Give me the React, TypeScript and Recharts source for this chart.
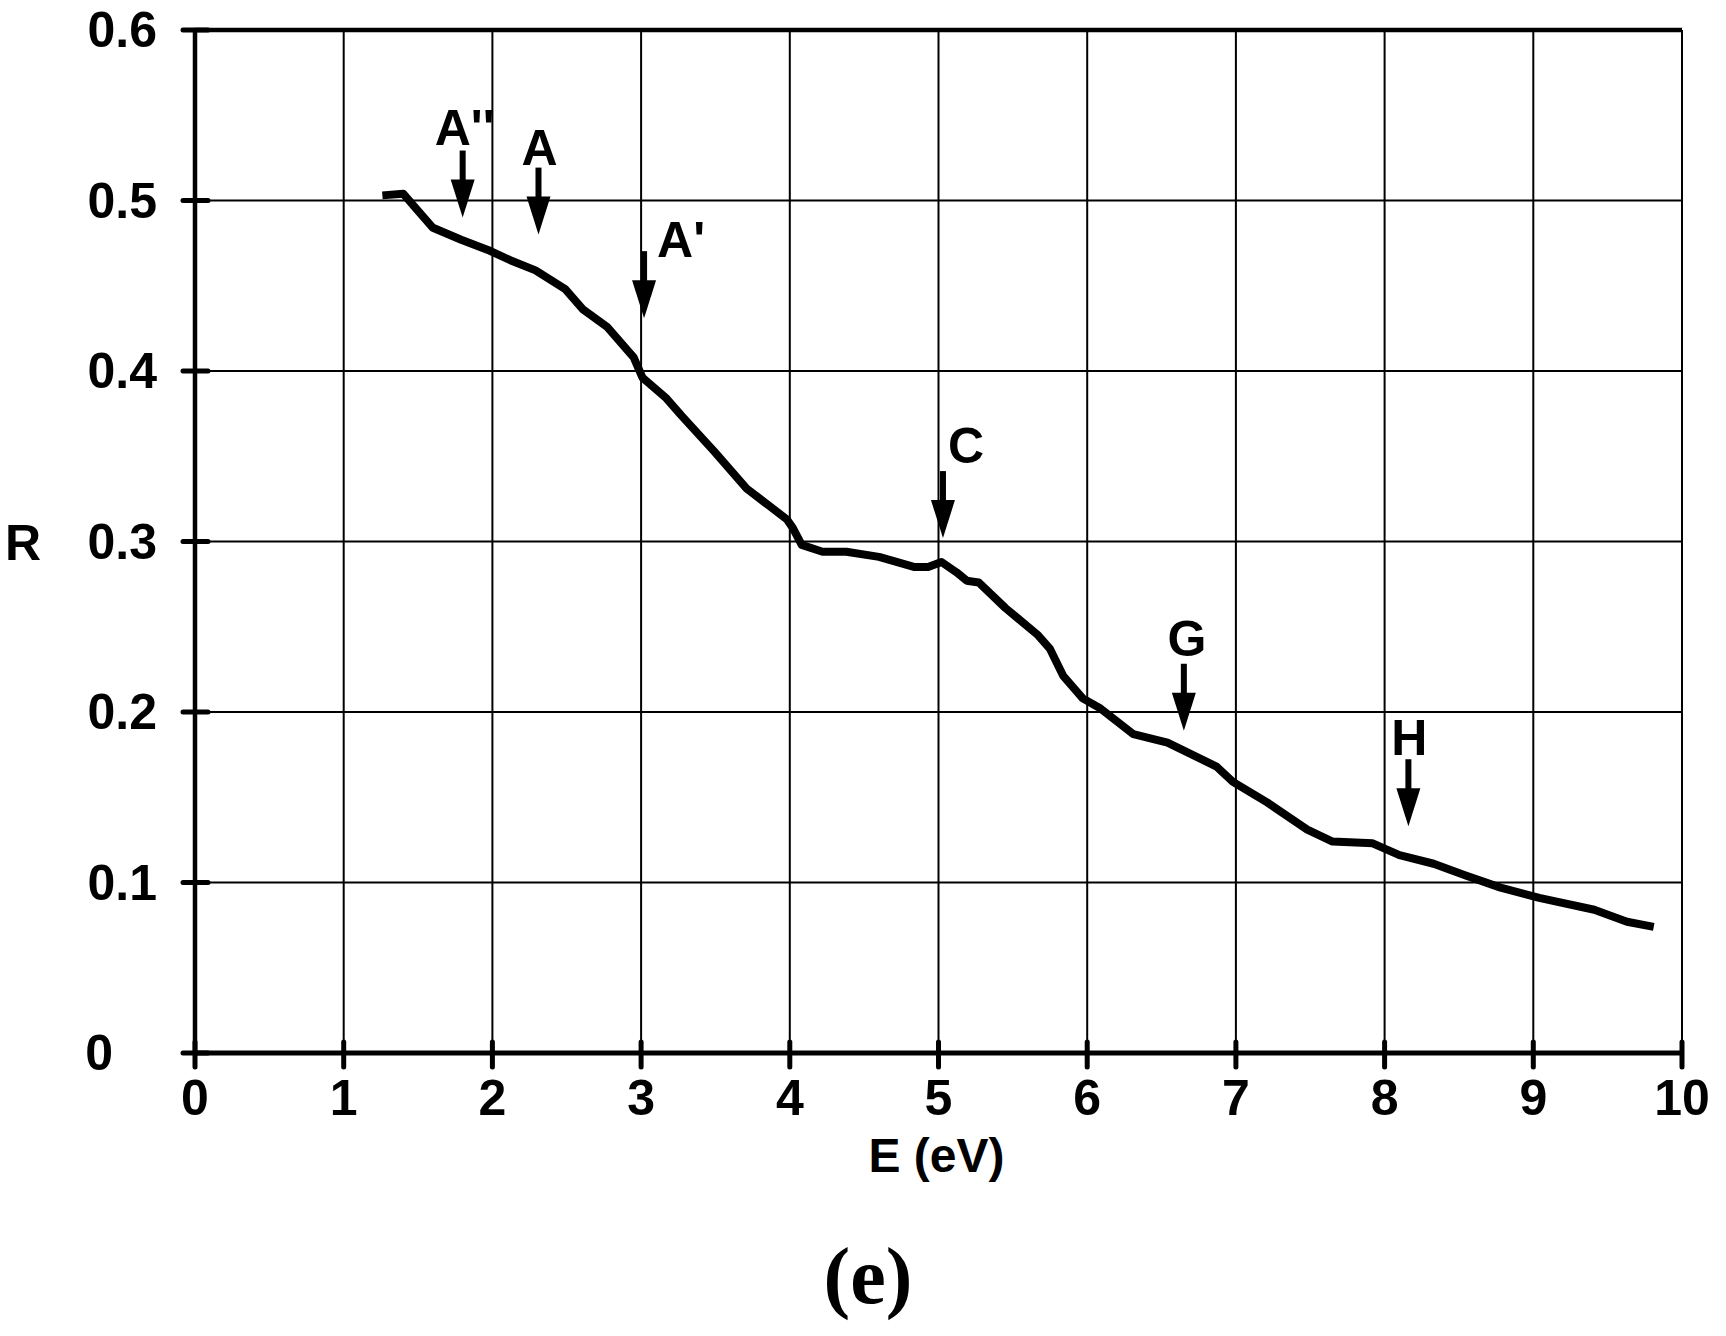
import {
  CartesianGrid,
  Line,
  LineChart,
  ReferenceDot,
  ReferenceLine,
  XAxis,
  YAxis,
} from "recharts";

// photon energy (eV) and reflectance
const energy = [
  1.26, 1.4, 1.49, 1.6, 1.79, 1.97, 2.12, 2.29, 2.49, 2.61, 2.77, 2.95, 3.01,
  3.17, 3.27, 3.49, 3.71, 3.86, 3.98, 4.02, 4.08, 4.22, 4.38, 4.6, 4.84, 4.93,
  5.02, 5.12, 5.19, 5.27, 5.45, 5.67, 5.75, 5.84, 5.97, 6.09, 6.31, 6.54, 6.87,
  6.98, 7.21, 7.48, 7.65, 7.92, 8.1, 8.33, 8.55, 8.78, 9.04, 9.41, 9.63, 9.81,
];
const reflectance = [
  0.503, 0.504, 0.495, 0.484, 0.477, 0.471, 0.465, 0.459, 0.448, 0.436, 0.426,
  0.408, 0.396, 0.384, 0.374, 0.353, 0.331, 0.321, 0.313, 0.308, 0.298, 0.294,
  0.294, 0.291, 0.285, 0.285, 0.288, 0.282, 0.277, 0.276, 0.261, 0.245, 0.237,
  0.221, 0.208, 0.202, 0.187, 0.182, 0.168, 0.159, 0.147, 0.131, 0.124, 0.123,
  0.116, 0.111, 0.104, 0.097, 0.091, 0.084, 0.077, 0.074,
];

const xTicks = [0, 1, 2, 3, 4, 5, 6, 7, 8, 9, 10];
const yTicks = [0, 0.1, 0.2, 0.3, 0.4, 0.5, 0.6];

// peak markers: label and where the arrow tip points
const peakLabels = ["A''", "A", "A'", "C", "G", "H"];
const peakE = [1.8, 2.31, 3.02, 5.03, 6.65, 8.16];
const peakR = [0.49, 0.48, 0.431, 0.302, 0.189, 0.133];

// label placement relative to the arrow tip
const labelPos: Record<string, { dx: number; dy: number; anchor: string }> = {
  "A''": { dx: 2, dy: -73, anchor: "middle" },
  A: { dx: 1, dy: -70, anchor: "middle" },
  "A'": { dx: 13, dy: -61, anchor: "start" },
  C: { dx: 5, dy: -75, anchor: "start" },
  G: { dx: 3, dy: -75, anchor: "middle" },
  H: { dx: 1, dy: -71, anchor: "middle" },
};

const data = energy.map((e, i) => ({ e, r: reflectance[i] }));

const FONT = "'Liberation Sans', Arial, sans-serif";

const XTick = ({ x, y, payload }: any) => (
  <g>
    <line x1={x} x2={x} y1={y - 11} y2={y + 14} stroke="#000" strokeWidth={5} strokeLinecap="round" />
    <text x={x} y={y + 62} textAnchor="middle" fontFamily={FONT} fontWeight="bold" fontSize={50} fill="#000">
      {payload.value}
    </text>
  </g>
);

const YTick = ({ x, y, payload }: any) => (
  <g>
    <line x1={x - 12} x2={x + 13} y1={y} y2={y} stroke="#000" strokeWidth={5} strokeLinecap="round" />
    <text
      x={payload.value === 0 ? x - 82 : x - 38}
      y={y}
      textAnchor="end"
      dominantBaseline="central"
      fontFamily={FONT}
      fontWeight="bold"
      fontSize={50}
      fill="#000"
    >
      {payload.value}
    </text>
  </g>
);

const Arrow = ({ cx, cy, label }: any) => {
  const p = labelPos[label];
  return (
    <g>
      <rect x={cx - 3} y={cy - 67} width={6} height={31} fill="#000" />
      <polygon points={`${cx - 12},${cy - 38} ${cx + 12},${cy - 38} ${cx},${cy}`} fill="#000" />
      <text
        x={cx + p.dx}
        y={cy + p.dy}
        textAnchor={p.anchor as any}
        fontFamily={FONT}
        fontWeight="bold"
        fontSize={50}
        fill="#000"
      >
        {label}
      </text>
    </g>
  );
};

export default function App() {
  return (
    <div style={{ position: "absolute", left: 0, top: 0, width: 1726, height: 1336, background: "#fff" }}>
      <LineChart width={1726} height={1336} data={data} margin={{ top: 30, right: 44, bottom: 0, left: 0 }}>
        <CartesianGrid
          stroke="#000"
          strokeWidth={2}
          horizontalValues={yTicks}
          verticalValues={xTicks}
        />
        <XAxis
          dataKey="e"
          type="number"
          domain={[0, 10]}
          ticks={xTicks}
          height={283}
          tickSize={0}
          tickMargin={0}
          tick={<XTick />}
          axisLine={{ stroke: "#000", strokeWidth: 5 }}
          label={{
            content: ({ viewBox }: any) => (
              <text
                x={viewBox.x + viewBox.width / 2 - 2}
                y={viewBox.y + 119}
                textAnchor="middle"
                fontFamily={FONT}
                fontWeight="bold"
                fontSize={48}
                fill="#000"
              >
                E (eV)
              </text>
            ),
          }}
        />
        <YAxis
          dataKey="r"
          type="number"
          domain={[0, 0.6]}
          ticks={yTicks}
          width={195}
          tickSize={0}
          tickMargin={0}
          tick={<YTick />}
          axisLine={{ stroke: "#000", strokeWidth: 4.5 }}
          label={{
            content: ({ viewBox }: any) => (
              <text
                x={23}
                y={viewBox.y + viewBox.height / 2 + 1}
                textAnchor="middle"
                dominantBaseline="central"
                fontFamily={FONT}
                fontWeight="bold"
                fontSize={50}
                fill="#000"
              >
                R
              </text>
            ),
          }}
        />
        <ReferenceLine y={0.6} stroke="#000" strokeWidth={4.5} />
        <Line
          type="linear"
          dataKey="r"
          stroke="#000"
          strokeWidth={8}
          strokeLinejoin="round"
          strokeLinecap="butt"
          dot={false}
          isAnimationActive={false}
        />
        {peakLabels.map((label, i) => (
          <ReferenceDot
            key={label}
            x={peakE[i]}
            y={peakR[i]}
            r={0}
            shape={(props: any) => <Arrow {...props} label={label} />}
          />
        ))}
      </LineChart>
      <div
        style={{
          position: "absolute",
          left: 0,
          width: 1736,
          top: 1226,
          textAlign: "center",
          fontFamily: "'Liberation Serif', 'Times New Roman', serif",
          fontWeight: "bold",
          fontSize: 80,
          lineHeight: "100px",
          color: "#000",
        }}
      >
        (e)
      </div>
    </div>
  );
}
